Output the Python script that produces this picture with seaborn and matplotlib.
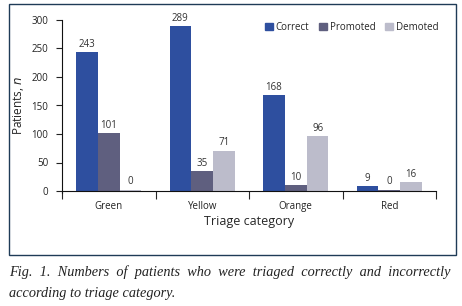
import pandas as pd
import matplotlib.pyplot as plt
import matplotlib.patches as mpatches
import seaborn as sns

categories = ['Green', 'Yellow', 'Orange', 'Red']
statuses = ['Correct', 'Promoted', 'Demoted']
correct = [243, 289, 168, 9]
promoted = [101, 35, 10, 0]
demoted = [0, 71, 96, 16]
colors = ['#2e4f9f', '#5f5f7f', '#bcbccb']


def main():
    rows = []
    for status, vals in zip(statuses, [correct, promoted, demoted]):
        for cat, v in zip(categories, vals):
            rows.append({'Category': cat, 'Status': status, 'n': v})
    df = pd.DataFrame(rows)

    sns.set_style("ticks")
    plt.rcParams['font.family'] = ['Open Sans', 'DejaVu Sans']

    fig = plt.figure(figsize=(4.62, 3.06), dpi=100)
    ax = fig.add_axes([62 / 462, 115 / 306, 374 / 462, 171 / 306])

    sns.barplot(data=df, x='Category', y='n', hue='Status', order=categories,
                hue_order=statuses, palette=colors, width=0.7, saturation=1,
                linewidth=0, ax=ax)

    # zero-height bars still show as a thin strip
    for cont, c in zip(ax.containers, colors):
        for bar in cont:
            if bar.get_height() == 0:
                bar.set_height(2.5)
        ax.bar_label(cont, labels=[str(int(round(b.get_height()))) if b.get_height() > 3 else '0'
                                   for b in cont],
                     padding=1.5, fontsize=7, color='#333333')

    ax.set_ylim(0, 300)
    ax.set_xlim(-0.5, 3.5)
    ax.set_yticks(range(0, 301, 50))
    ax.tick_params(axis='y', labelsize=7, length=4, width=0.8, pad=6, colors='#222222')

    # ticks between groups, labels in the middle
    ax.set_xticks([-0.5, 0.5, 1.5, 2.5, 3.5])
    ax.set_xticklabels([])
    ax.tick_params(axis='x', which='major', length=6, width=0.8, direction='out')
    ax.set_xticks(range(4), minor=True)
    ax.set_xticklabels(categories, minor=True)
    ax.tick_params(axis='x', which='minor', length=0, labelsize=7, pad=7, colors='#222222')

    for side in ['top', 'right']:
        ax.spines[side].set_visible(False)
    for side in ['left', 'bottom']:
        ax.spines[side].set_linewidth(0.8)
        ax.spines[side].set_color('#111111')
    ax.spines['left'].set_bounds(-3, 300)
    ax.spines['left'].set_clip_on(False)

    ax.set_xlabel('Triage category', fontsize=9, labelpad=2)
    ax.set_ylabel('Patients, $\\it{n}$', fontsize=8.5, labelpad=4)

    handles = [mpatches.Patch(color=c, label=s) for c, s in zip(colors, statuses)]
    ax.legend(handles=handles, ncol=3, frameon=False, fontsize=7,
              loc='upper right', bbox_to_anchor=(1.03, 1.04),
              handlelength=0.8, handleheight=0.8, handletextpad=0.3, columnspacing=1.0)

    border = mpatches.Rectangle((9 / 462, 51 / 306), 447 / 462, 251 / 306,
                                transform=fig.transFigure, fill=False,
                                edgecolor='#1f3b57', linewidth=1.0)
    fig.patches.append(border)

    fig.text(9 / 462, 1 - 272 / 306,
             'Fig.  1.  Numbers  of  patients  who  were  triaged  correctly  and  incorrectly',
             family='Liberation Serif', style='italic', fontsize=10.3, va='center', color='#222222')
    fig.text(9 / 462, 1 - 293 / 306, 'according to triage category.',
             family='Liberation Serif', style='italic', fontsize=10.3, va='center', color='#222222')

    fig.savefig('out.png', dpi=100)


if __name__ == "__main__":
    main()
